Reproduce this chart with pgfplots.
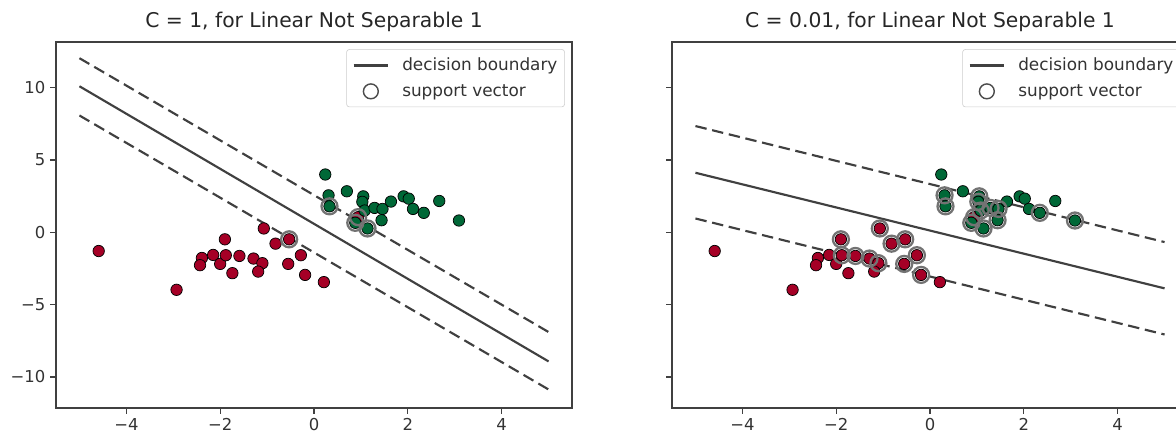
\documentclass[border=0pt]{standalone}
\usepackage{fontspec}
\setmainfont{DejaVu Sans}
\usepackage{pgfplots}
\usepackage{pgfplotstable}
\pgfplotsset{compat=1.18}

\definecolor{ptred}{HTML}{A50026}
\definecolor{ptgreen}{HTML}{006837}

% class -1 and class +1 samples (same data in both panels)
\pgfplotstableread{
x y
-4.59 -1.30
-2.93 -3.98
-1.90 -0.49
-1.07 0.26
-0.82 -0.79
-0.53 -0.49
-2.39 -1.78
-2.43 -2.28
-2.15 -1.57
-2.00 -2.19
-1.88 -1.59
-1.59 -1.64
-1.74 -2.83
-1.29 -1.82
-1.10 -2.14
-1.19 -2.72
-0.55 -2.19
-0.28 -1.59
-0.19 -2.95
0.21 -3.45
0.94 1.04
}\redpts

\pgfplotstableread{
x y
0.24 3.99
0.31 2.55
0.33 1.79
0.70 2.83
1.05 2.48
1.03 2.10
1.08 1.50
1.29 1.68
1.46 1.61
1.64 2.12
1.44 0.83
1.91 2.48
2.02 2.32
2.11 1.61
2.34 1.34
2.67 2.16
3.09 0.81
1.14 0.26
0.88 0.65
}\greenpts

% support vectors, C = 1
\pgfplotstableread{
x y
0.33 1.79
0.88 0.65
1.14 0.26
0.94 1.04
-0.53 -0.49
}\svA

% support vectors, C = 0.01
\pgfplotstableread{
x y
-1.90 -0.49
-1.07 0.26
-0.82 -0.79
-0.53 -0.49
-1.88 -1.59
-1.59 -1.64
-1.29 -1.82
-1.10 -2.14
-0.55 -2.19
-0.28 -1.59
-0.19 -2.95
0.94 1.04
0.31 2.55
0.33 1.79
1.05 2.48
1.03 2.10
1.08 1.50
1.29 1.68
1.46 1.61
1.44 0.83
2.34 1.34
3.09 0.81
1.14 0.26
0.88 0.65
}\svB

\pgfplotsset{
  svmpanel/.style={
    scale only axis, width=361.2pt, height=256.2pt,
    xmin=-5.5, xmax=5.5, ymin=-12.15, ymax=13.15,
    xtick={-4,-2,0,2,4}, xticklabels={−4,−2,0,2,4},
    ytick={-10,-5,0,5,10},
    tick align=outside, tick pos=left, major tick length=4pt,
    axis line style={black!75, line width=0.9pt},
    tick style={black!75, line width=0.9pt},
    ticklabel style={font=\fontsize{11.5}{13}\selectfont, text=black!80},
    title style={font=\fontsize{14.2}{16}\selectfont, text=black!85, yshift=-2pt},
    legend style={at={(1,1)}, anchor=north east, xshift=-5pt, yshift=-5pt,
      draw=black!20, rounded corners=2pt, font=\fontsize{11.8}{13}\selectfont,
      text=black!80, row sep=4pt, inner xsep=3pt, inner ysep=4pt},
    legend cell align=left,
  },
  pts/.style={only marks, mark=*, mark size=4pt,
    mark options={fill=#1, draw=black, line width=0.5pt}},
  bnd/.style={black!75, line width=1.5pt,
    legend image code/.code={\draw[##1] (2pt,0pt) -- (26pt,0pt);
      \path[draw=none] (0pt,0pt) rectangle (34pt,0.1pt);}},
  mrg/.style={black!75, line width=1.5pt, dash pattern=on 8pt off 4pt},
  svring/.style={only marks, mark=o, mark size=5.6pt,
    mark options={draw=black!55, line width=1.6pt},
    legend image code/.code={\draw[black!70, line width=1pt, fill=none] (14pt,0pt) circle (5.2pt);
      \path[draw=none] (0pt,0pt) rectangle (34pt,0.1pt);}},
}

\begin{document}
\begin{tikzpicture}
\begin{axis}[svmpanel, at={(39.2pt,18.9pt)}, anchor=south west,
  yticklabels={−10,−5,0,5,10},
  title={C = 1, for Linear Not Separable 1}]
\addplot[pts=ptred, forget plot] table {\redpts};
\addplot[pts=ptgreen, forget plot] table {\greenpts};
\addplot[bnd] coordinates {(-5,10.09) (5,-8.93)};
\addlegendentry{decision boundary}
\addplot[mrg, forget plot] coordinates {(-5,12.03) (5,-6.90)};
\addplot[mrg, forget plot] coordinates {(-5,8.07) (5,-10.87)};
\addplot[svring] table {\svA};
\addlegendentry{support vector}
\end{axis}

\begin{axis}[svmpanel, at={(470.4pt,18.9pt)}, anchor=south west,
  yticklabels={},
  title={C = 0.01, for Linear Not Separable 1}]
\addplot[pts=ptred, forget plot] table {\redpts};
\addplot[pts=ptgreen, forget plot] table {\greenpts};
\addplot[bnd] coordinates {(-5,4.11) (5,-3.88)};
\addlegendentry{decision boundary}
\addplot[mrg, forget plot] coordinates {(-5,7.34) (5,-0.68)};
\addplot[mrg, forget plot] coordinates {(-5,0.95) (5,-7.07)};
\addplot[svring] table {\svB};
\addlegendentry{support vector}
\end{axis}

\pgfresetboundingbox
\path (0pt,0pt) rectangle (823.2pt,304.5pt);
\end{tikzpicture}
\end{document}
